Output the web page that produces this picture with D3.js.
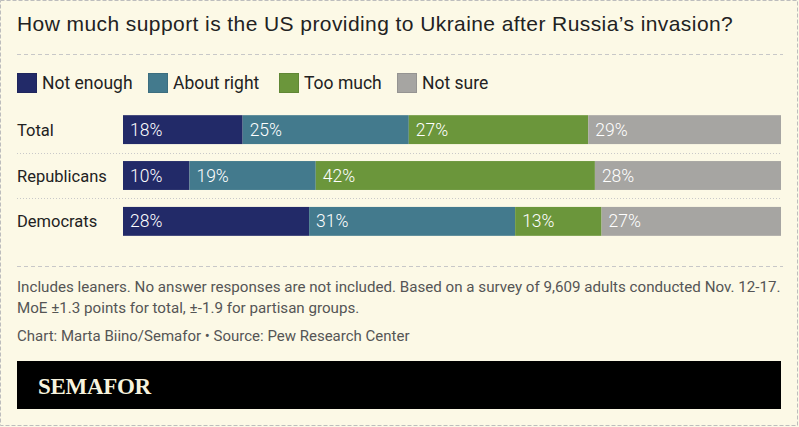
<html>
<head>
<meta charset="utf-8">
<script src="https://d3js.org/d3.v7.min.js"></script>
<style>
  body { margin: 0; background: #fcf9e6; }
  svg { display: block; }
</style>
</head>
<body>
<svg width="799" height="427" id="svg1"></svg>
<script>
var categories = ["Total", "Republicans", "Democrats"];
var seriesNames = ["Not enough", "About right", "Too much", "Not sure"];
var notEnough = [18, 10, 28];
var aboutRight = [25, 19, 31];
var tooMuch = [27, 42, 13];
var notSure = [29, 28, 27];
var colors = ["#222a68", "#437a8d", "#6b963b", "#a6a5a2"];

var svg = d3.select("#svg1");
var W = 799, H = 427;
var left = 123, right = 781;

svg.append("rect").attr("x", 0.5).attr("y", 0.5).attr("width", W - 2).attr("height", H - 2)
  .attr("fill", "#fcf9e6").attr("stroke", "#bdbdbd").attr("stroke-dasharray", "4,2");

svg.append("text").attr("x", 17).attr("y", 31)
  .attr("font-family", "Liberation Sans, Arial, sans-serif").attr("font-size", "21px")
  .attr("letter-spacing", "0.42px")
  .attr("fill", "#222").text("How much support is the US providing to Ukraine after Russia\u2019s invasion?");

svg.append("line").attr("x1", 17).attr("x2", 783).attr("y1", 54.5).attr("y2", 54.5)
  .attr("stroke", "#c8c8c8").attr("stroke-dasharray", "4,3");

// legend
var legendX = [17, 148, 279, 397];
var lg = svg.selectAll(".lg").data(seriesNames).enter().append("g")
  .attr("transform", function(d, i) { return "translate(" + legendX[i] + ",73)"; });
lg.append("rect").attr("x", 0.5).attr("y", 0.5).attr("width", 19).attr("height", 19)
  .attr("fill", function(d, i) { return colors[i]; })
  .attr("stroke", function(d, i) { return d3.color(colors[i]).darker(0.3); });
lg.append("text").attr("x", 25).attr("y", 15.5)
  .attr("font-family", "Roboto, sans-serif").attr("font-size", "17.5px").attr("fill", "#222")
  .text(function(d) { return d; });

// data table
var rows = categories.map(function(c, i) {
  return { cat: c, "Not enough": notEnough[i], "About right": aboutRight[i], "Too much": tooMuch[i], "Not sure": notSure[i] };
});
var stack = d3.stack().keys(seriesNames).offset(d3.stackOffsetExpand);
var series = stack(rows);

var x = d3.scaleLinear().domain([0, 1]).range([left, right]);
var y = d3.scaleBand().domain(categories).range([106, 245]).paddingInner(0.37).paddingOuter(0.2);

// dotted row separators
svg.selectAll(".sep").data(categories.slice(1)).enter().append("line")
  .attr("x1", 17).attr("x2", right)
  .attr("y1", function(d) { return Math.round(y(d) - y.step() * y.paddingInner() / 2) + 0.5; })
  .attr("y2", function(d) { return Math.round(y(d) - y.step() * y.paddingInner() / 2) + 0.5; })
  .attr("stroke", "#c9c9c9").attr("stroke-dasharray", "1,2");

var sg = svg.selectAll(".series").data(series).enter().append("g")
  .attr("fill", function(d, i) { return colors[i]; });

sg.selectAll("rect").data(function(d) { return d; }).enter().append("rect")
  .attr("x", function(d) { return x(d[0]); })
  .attr("y", function(d) { return y(d.data.cat); })
  .attr("width", function(d) { return x(d[1]) - x(d[0]); })
  .attr("height", y.bandwidth());

sg.selectAll("text").data(function(d) { return d.map(function(v) { v.key = d.key; return v; }); })
  .enter().append("text")
  .attr("x", function(d) { return x(d[0]) + 7; })
  .attr("y", function(d) { return y(d.data.cat) + y.bandwidth() / 2 + 6; })
  .attr("font-family", "Roboto, sans-serif").attr("font-weight", 300)
  .attr("font-size", "17.5px").attr("fill", "#fff")
  .text(function(d) { return d.data[d.key] + "%"; });

// category labels
svg.selectAll(".cat").data(categories).enter().append("text")
  .attr("x", 17)
  .attr("y", function(d) { return y(d) + y.bandwidth() / 2 + 6; })
  .attr("font-family", "Roboto, sans-serif").attr("font-size", "16.5px").attr("fill", "#222")
  .text(function(d) { return d; });

svg.append("line").attr("x1", 17).attr("x2", 783).attr("y1", 266.5).attr("y2", 266.5)
  .attr("stroke", "#c8c8c8").attr("stroke-dasharray", "4,3");

var notes = ["Includes leaners. No answer responses are not included. Based on a survey of 9,609 adults conducted Nov. 12-17.",
             "MoE \u00b11.3 points for total, \u00b1-1.9 for partisan groups."];
svg.selectAll(".note").data(notes).enter().append("text")
  .attr("x", 17).attr("y", function(d, i) { return 292 + i * 21; })
  .attr("font-family", "Roboto, sans-serif").attr("font-size", "15.15px").attr("fill", "#555")
  .text(function(d) { return d; });

svg.append("text").attr("x", 17).attr("y", 341)
  .attr("font-family", "Roboto, sans-serif").attr("font-size", "15px").attr("fill", "#555")
  .text("Chart: Marta Biino/Semafor \u2022 Source: Pew Research Center");

svg.append("rect").attr("x", 17).attr("y", 361).attr("width", 764).attr("height", 48).attr("fill", "#000");
svg.append("text").attr("x", 38).attr("y", 394)
  .attr("font-family", "Liberation Serif, DejaVu Serif, serif").attr("font-weight", "bold")
  .attr("font-size", "23px").attr("fill", "#f7f3de").attr("letter-spacing", "-0.3px")
  .text("SEMAFOR");
</script>
</body>
</html>
